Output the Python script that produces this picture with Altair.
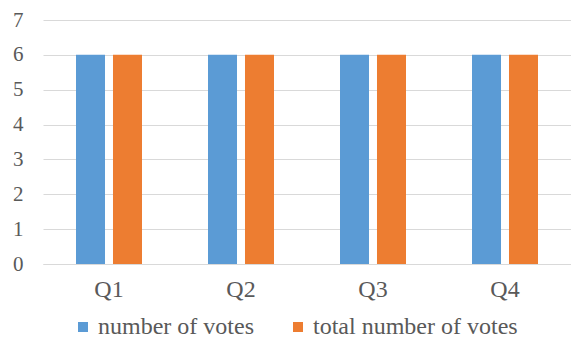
import altair as alt
import pandas as pd

quarters = ["Q1", "Q2", "Q3", "Q4"]
series = ["number of votes", "total number of votes"]
votes = [6, 6, 6, 6]
total_votes = [6, 6, 6, 6]
colors = ["#5B9BD5", "#ED7D31"]

rows = []
for q, a, b in zip(quarters, votes, total_votes):
    rows.append({"quarter": q, "series": series[0], "value": a})
    rows.append({"quarter": q, "series": series[1], "value": b})
df = pd.DataFrame(rows)

font = "Liberation Serif"
txt = "#595959"

chart = alt.Chart(df).mark_bar().encode(
    x=alt.X("quarter:N", sort=quarters, title=None,
            scale=alt.Scale(paddingInner=0.5, paddingOuter=0.25),
            axis=alt.Axis(labelAngle=0, ticks=False, domainColor="#d9d9d9",
                          labelFontSize=24, labelColor=txt, labelFont=font,
                          labelPadding=13, grid=False)),
    xOffset=alt.XOffset("series:N", sort=series,
                        scale=alt.Scale(paddingInner=0.216, paddingOuter=0)),
    y=alt.Y("value:Q", title=None,
            scale=alt.Scale(domain=[0, 7], nice=False),
            axis=alt.Axis(values=[0, 1, 2, 3, 4, 5, 6, 7], ticks=False, domain=False,
                          gridColor="#d9d9d9", labelFontSize=21, labelColor=txt,
                          labelFont=font, labelPadding=20)),
    color=alt.Color("series:N", sort=series,
                    scale=alt.Scale(domain=series, range=colors),
                    legend=alt.Legend(title=None, orient="none", direction="horizontal",
                                      legendX=28, legendY=295, symbolType="square",
                                      symbolSize=100, symbolStrokeWidth=0,
                                      labelFontSize=24, labelColor=txt, labelFont=font,
                                      labelOffset=3, columnPadding=32, labelLimit=400,
                                      padding=0)),
).properties(
    width=528, height=244,
    autosize=alt.AutoSizeParams(type="none"),
    padding={"left": 43, "top": 20, "right": 0, "bottom": 77},
).configure_view(stroke=None)

chart.save("out.html", embed_options={"renderer": "svg", "actions": False})
